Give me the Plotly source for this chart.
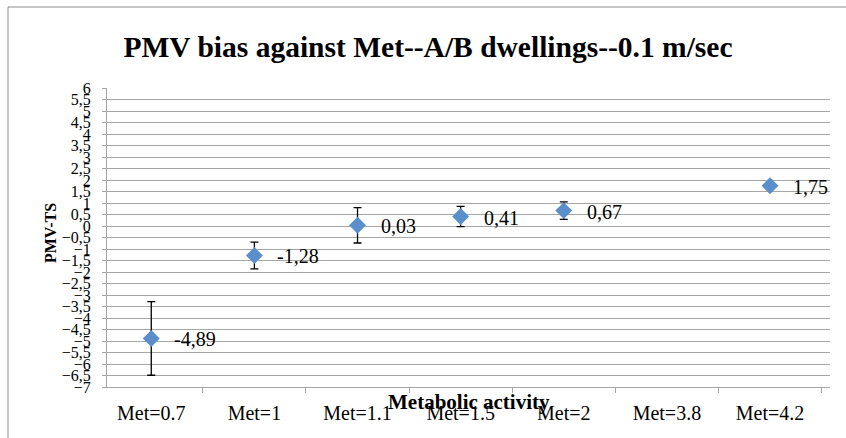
import plotly.graph_objects as go

# ---- data ----
categories = ["Met=0.7", "Met=1", "Met=1.1", "Met=1.5", "Met=2", "Met=3.8", "Met=4.2"]
pmv_bias = [-4.89, -1.28, 0.03, 0.41, 0.67, None, 1.75]
pmv_err = [1.6, 0.58, 0.77, 0.44, 0.38, None, 0.14]

chart_title = "PMV bias against Met--A/B dwellings--0.1 m/sec"
x_title = "Metabolic activity"
y_title = "PMV-TS"

# ---- layout geometry (page pixels) ----
W, H = 846, 438
L, R, T, B = 107, W - 830, 88, H - 387
PW, PH = W - L - R, H - T - B

def px_x(p):
    return (p - L) / PW

def px_y(p):
    return (H - B - p) / PH

SERIF = "Liberation Serif, Times New Roman, serif"
GRID = "#A6A6A6"

fig = go.Figure()
fig.add_trace(go.Scatter(
    x=categories,
    y=pmv_bias,
    mode="markers",
    marker=dict(symbol="diamond", size=13, color="#5A8FCC"),
    error_y=dict(type="data", array=pmv_err, symmetric=True,
                 color="black", thickness=1.3, width=4),
    showlegend=False,
    cliponaxis=False,
    hoverinfo="skip",
))

annotations = []
for c, v in zip(categories, pmv_bias):
    if v is None:
        continue
    annotations.append(dict(
        x=c, y=v, xref="x", yref="y",
        text=f"{v:.2f}".replace(".", ","),
        showarrow=False, xanchor="left", yanchor="middle",
        xshift=21, yshift=-1,
        font=dict(family=SERIF, size=20, color="black"),
    ))

annotations.append(dict(
    x=0.5, y=px_y(402), xref="paper", yref="paper",
    text=f"<b>{x_title}</b>", showarrow=False,
    xanchor="center", yanchor="middle",
    font=dict(family=SERIF, size=21, color="black"),
))
annotations.append(dict(
    x=px_x(50), y=px_y(233), xref="paper", yref="paper",
    text=f"<b>{y_title}</b>", showarrow=False, textangle=-90,
    xanchor="center", yanchor="middle",
    font=dict(family=SERIF, size=16, color="black"),
))

fig.update_layout(
    template="none",
    width=W, height=H,
    margin=dict(l=L, r=R, t=T, b=B, pad=0, autoexpand=False),
    paper_bgcolor="white", plot_bgcolor="white",
    separators=", ",
    showlegend=False,
    title=dict(
        text=f"<b>{chart_title}</b>",
        x=428 / W, xanchor="center",
        y=1 - 47 / H, yanchor="middle",
        font=dict(family=SERIF, size=29.5, color="black"),
    ),
    xaxis=dict(
        type="category", categoryorder="array", categoryarray=categories,
        automargin=False,
        showgrid=False, zeroline=False,
        showline=True, linecolor=GRID, linewidth=1,
        ticks="outside", tickson="boundaries", ticklen=5,
        tickcolor=GRID, tickwidth=1,
        ticklabelstandoff=8,
        tickfont=dict(family=SERIF, size=20, color="black"),
    ),
    yaxis=dict(
        range=[-7, 6], tick0=0, dtick=0.5,
        automargin=False,
        showgrid=True, gridcolor=GRID, gridwidth=1,
        zeroline=False,
        showline=True, linecolor=GRID, linewidth=1,
        ticks="outside", ticklen=4, tickcolor=GRID, tickwidth=1,
        ticklabelstandoff=8,
        tickfont=dict(family=SERIF, size=16, color="black"),
    ),
    annotations=annotations,
    shapes=[dict(
        type="rect", xref="paper", yref="paper",
        x0=px_x(8), x1=px_x(860), y0=px_y(450), y1=px_y(7),
        line=dict(color="#8C8C8C", width=1), fillcolor="rgba(0,0,0,0)",
        layer="below",
    )],
)

fig.write_html(
    "out.html",
    config={"displayModeBar": False},
    post_script="document.body.style.margin='0';document.body.style.padding='0';",
)
